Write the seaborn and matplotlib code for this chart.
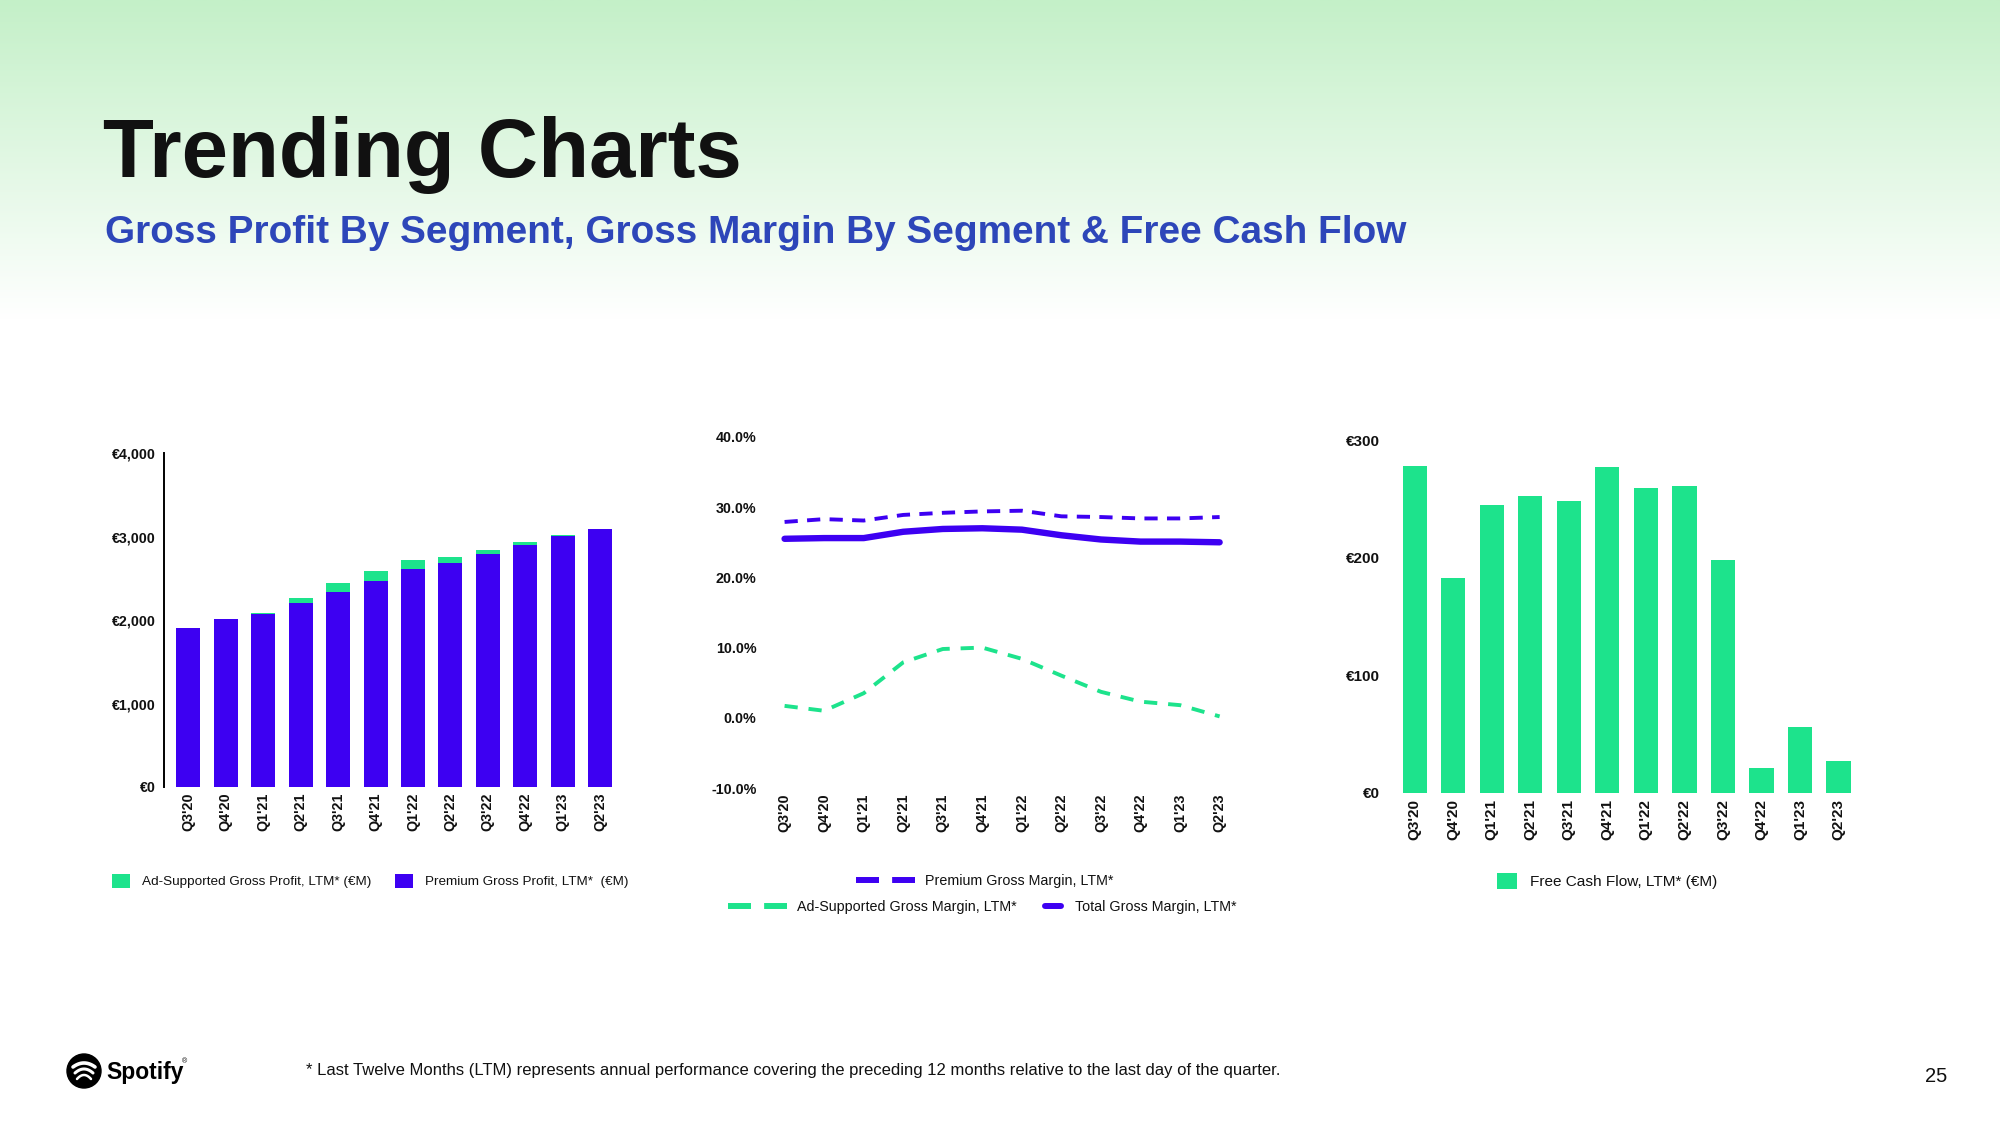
import numpy as np
import pandas as pd
import matplotlib
matplotlib.use("Agg")
import matplotlib.pyplot as plt
import seaborn as sns
from matplotlib.patches import Patch, Circle
from matplotlib.lines import Line2D

# ---------------- data ----------------
quarters = ["Q3'20", "Q4'20", "Q1'21", "Q2'21", "Q3'21", "Q4'21",
            "Q1'22", "Q2'22", "Q3'22", "Q4'22", "Q1'23", "Q2'23"]
premium_gross_profit = [1908, 2016, 2072, 2200, 2339, 2463, 2615, 2687, 2794, 2902, 3010, 3094]
adsupported_gross_profit = [0, 0, 16, 67, 108, 128, 108, 71, 48, 36, 12, 0]
premium_gross_margin = [27.9, 28.3, 28.1, 28.9, 29.2, 29.4, 29.5, 28.7, 28.6, 28.4, 28.4, 28.6]
adsupported_gross_margin = [1.7, 1.0, 3.5, 7.9, 9.8, 10.0, 8.4, 6.0, 3.7, 2.3, 1.8, 0.2]
total_gross_margin = [25.5, 25.6, 25.6, 26.5, 26.9, 27.0, 26.8, 26.0, 25.4, 25.1, 25.1, 25.0]
free_cash_flow = [278, 183, 245, 252, 248, 277, 259, 261, 198, 21, 56, 27]

gp_ticks = [0, 1000, 2000, 3000, 4000]
gm_ticks = [-10, 0, 10, 20, 30, 40]
fcf_ticks = [0, 100, 200, 300]

PURPLE = "#3D00F2"
GREEN = "#1DE38C"
BLUE = "#2D46B9"
INK = "#111111"

sns.set_style("white")
plt.rcParams["font.family"] = ["Liberation Sans", "DejaVu Sans"]
plt.rcParams["axes.unicode_minus"] = False

W, H = 2000, 1125
fig = plt.figure(figsize=(20, 11.25), dpi=100)

def frac(x0, y0, x1, y1):
    """pixel box (top-left origin) -> figure fraction rect"""
    return [x0 / W, 1 - y1 / H, (x1 - x0) / W, (y1 - y0) / H]

# ---------------- background / decoration layer ----------------
bg = fig.add_axes([0, 0, 1, 1], zorder=0)
bg.set_xlim(0, W)
bg.set_ylim(H, 0)
bg.axis("off")
grad_h = 320
t = np.linspace(0, 1, 200)[:, None]
top = np.array([196, 240, 200]) / 255.0
col = top[None, None, :] * (1 - t[..., None]) + np.ones(3)[None, None, :] * t[..., None]
col = np.repeat(col, 2, axis=1)
bg.imshow(col, extent=(0, W, grad_h, 0), aspect="auto", interpolation="bilinear", zorder=0)

bg.text(103, 177, "Trending Charts", fontsize=60, fontweight="bold", color=INK, va="baseline")
bg.text(105, 243, "Gross Profit By Segment, Gross Margin By Segment & Free Cash Flow",
        fontsize=27.9, fontweight="bold", color=BLUE, va="baseline")

# spotify logo
bg.add_patch(Circle((84, 1071), 17, color="black", zorder=3))
for k, (w, lw) in enumerate([(11, 2.6), (9, 2.2), (7, 1.8)]):
    xs = np.linspace(-w, w, 30)
    ys = 1065 + 6 * k + 4 * (xs / w) ** 2 - 4
    bg.plot(84 + xs, ys + 2, color="white", lw=lw, solid_capstyle="round", zorder=4)
bg.text(106, 1072, "Spotify", fontsize=16.5, fontweight="bold", color="black", va="center")
bg.text(182, 1062, "®", fontsize=5, color="black", va="center")
bg.text(306, 1070, "* Last Twelve Months (LTM) represents annual performance covering the preceding "
        "12 months relative to the last day of the quarter.", fontsize=12, va="center", color=INK)
bg.text(1925, 1077, "25", fontsize=14.5, va="center", color=INK)

tick_fs = 10.3

def style_ticks(ax, ypad, xpad, fs):
    ax.tick_params(axis="y", length=0, pad=ypad, labelsize=fs, labelcolor=INK)
    ax.tick_params(axis="x", length=0, pad=xpad, labelsize=fs, labelrotation=90, labelcolor=INK)
    for lab in ax.get_xticklabels() + ax.get_yticklabels():
        lab.set_fontweight("bold")

# ---------------- chart 1: gross profit by segment ----------------
ax1 = fig.add_axes(frac(163.9, 453, 618.9, 787), zorder=2)
ax1.set_facecolor("none")
df1 = pd.DataFrame({"quarter": quarters,
                    "premium": premium_gross_profit,
                    "ad": adsupported_gross_profit})
df1["total"] = df1["premium"] + df1["ad"]
sns.barplot(data=df1, x="quarter", y="total", color=GREEN, saturation=1, width=0.64,
            linewidth=0, ax=ax1)
sns.barplot(data=df1, x="quarter", y="premium", color=PURPLE, saturation=1, width=0.64,
            linewidth=0, ax=ax1)
ax1.set_xlim(-0.654, 11.5)
ax1.set_ylim(0, 4000)
ax1.set_yticks(gp_ticks)
ax1.set_yticklabels([f"€{v:,}" for v in gp_ticks])
ax1.set_xlabel("")
ax1.set_ylabel("")
for s in ["top", "right", "bottom"]:
    ax1.spines[s].set_visible(False)
ax1.spines["left"].set_color("black")
ax1.spines["left"].set_linewidth(1.4)
style_ticks(ax1, 6, 4, tick_fs)

# ---------------- chart 2: gross margin by segment ----------------
ax2 = fig.add_axes(frac(764.8, 437, 1239.4, 788), zorder=2)
ax2.set_facecolor("none")
df2 = pd.DataFrame({"idx": np.arange(len(quarters)),
                    "premium": premium_gross_margin,
                    "ad": adsupported_gross_margin,
                    "total": total_gross_margin})
sns.lineplot(data=df2, x="idx", y="total", color=PURPLE, lw=4.6, ax=ax2)
sns.lineplot(data=df2, x="idx", y="premium", color=PURPLE, lw=2.8, ax=ax2)
ax2.lines[-1].set_dashes([3.4, 2.4])
sns.lineplot(data=df2, x="idx", y="ad", color=GREEN, lw=2.8, ax=ax2)
ax2.lines[-1].set_dashes([3.4, 2.8])
ax2.set_xlim(-0.5, 11.5)
ax2.set_ylim(-10, 40)
ax2.set_xticks(np.arange(len(quarters)))
ax2.set_xticklabels(quarters)
ax2.set_yticks(gm_ticks)
ax2.set_yticklabels([f"{v:.1f}%" for v in gm_ticks])
ax2.set_xlabel("")
ax2.set_ylabel("")
for s in ax2.spines.values():
    s.set_visible(False)
style_ticks(ax2, 6, 4, tick_fs)

# ---------------- chart 3: free cash flow ----------------
ax3 = fig.add_axes(frac(1395.4, 440, 1857.8, 793), zorder=2)
ax3.set_facecolor("none")
df3 = pd.DataFrame({"quarter": quarters, "fcf": free_cash_flow})
sns.barplot(data=df3, x="quarter", y="fcf", color=GREEN, saturation=1, width=0.63,
            linewidth=0, ax=ax3)
ax3.set_xlim(-0.5, 11.5)
ax3.set_ylim(0, 300)
ax3.set_yticks(fcf_ticks)
ax3.set_yticklabels([f"€{v}" for v in fcf_ticks])
ax3.set_xlabel("")
ax3.set_ylabel("")
for s in ax3.spines.values():
    s.set_visible(False)
style_ticks(ax3, 11, 4, 11)

# ---------------- legends ----------------
def add_leg(handle, label, x_px, y_px, hl, hh=0.7, pad=0.8, fs=9.7):
    fig.legend(handles=[handle], labels=[label], loc="center left",
               bbox_to_anchor=(x_px / W, 1 - y_px / H), frameon=False,
               fontsize=fs, handlelength=hl, handleheight=hh,
               handletextpad=pad, borderpad=0, borderaxespad=0,
               labelcolor=INK)

add_leg(Patch(facecolor=GREEN, edgecolor="none"), "Ad-Supported Gross Profit, LTM* (€M)",
        112, 881, 1.3, 1.3, 0.95, 9.7)
add_leg(Patch(facecolor=PURPLE, edgecolor="none"), "Premium Gross Profit, LTM*  (€M)",
        395, 881, 1.3, 1.3, 0.95, 9.7)
add_leg(Line2D([], [], color=PURPLE, lw=4.3, dashes=(3.85, 2.2)), "Premium Gross Margin, LTM*",
        856, 881, 4.1, 0.7, 0.7, 10.3)
add_leg(Line2D([], [], color=GREEN, lw=4.3, dashes=(3.85, 2.2)), "Ad-Supported Gross Margin, LTM*",
        728, 907, 4.1, 0.7, 0.7, 10.3)
add_leg(Line2D([], [], color=PURPLE, lw=4.3), "Total Gross Margin, LTM*",
        1045, 907, 1.1, 0.7, 1.0, 10.3)
add_leg(Patch(facecolor=GREEN, edgecolor="none"), "Free Cash Flow, LTM* (€M)",
        1497, 881, 1.3, 1.3, 0.85, 11.1)

fig.savefig("out.png", dpi=100, facecolor="white")
